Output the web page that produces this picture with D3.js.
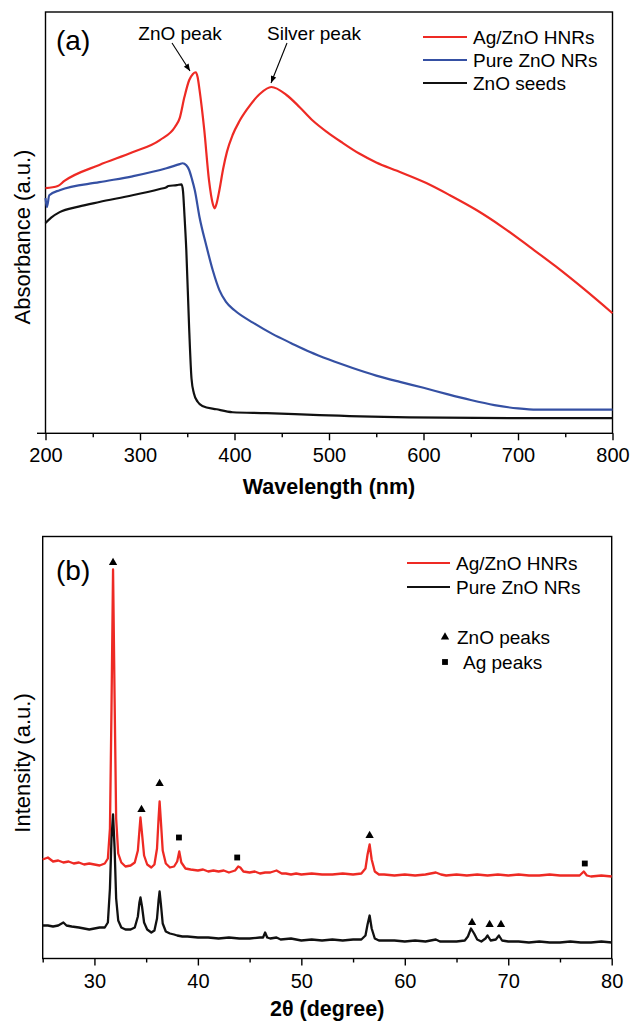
<!DOCTYPE html>
<html>
<head>
<meta charset="utf-8">
<script src="https://cdn.jsdelivr.net/npm/d3@7"></script>
<style>
  body { margin: 0; background: #fff; }
  text { font-family: 'Liberation Sans', Arial, sans-serif; }
</style>
</head>
<body>
<div id="app"></div>
<script>
// ---- panel (a) : UV-Vis absorbance, [wavelength nm, absorbance a.u.]
const agZnoUv = [[200,0.582],[213,0.587],[220,0.599],[257,0.637],[292,0.667],[321,0.696],[337,0.727],[342,0.748],
  [347,0.798],[352,0.838],[356,0.853],[359,0.857],[361,0.845],[363,0.815],[368,0.72],[373,0.601],[377,0.545],[379,0.534],
  [381,0.545],[384,0.577],[388,0.628],[392,0.668],[398,0.708],[405,0.74],[413,0.768],[427,0.806],[439,0.822],[455,0.803],
  [469,0.774],[483,0.742],[498,0.715],[514,0.69],[532,0.664],[550,0.643],[572,0.623],[603,0.594],[628,0.565],[656,0.53],
  [684,0.489],[712,0.443],[740,0.396],[770,0.342],[800,0.285]];
const pureZnoUv = [[200,0.558],[201.5,0.537],[204,0.565],[215,0.577],[257,0.596],[292,0.61],[328,0.629],[342,0.639],
  [345,0.641],[349,0.636],[352,0.625],[355,0.603],[358,0.577],[363,0.513],[370,0.447],[377,0.387],[384,0.34],[391,0.312],
  [400,0.292],[420,0.262],[440,0.236],[460,0.214],[480,0.193],[500,0.175],[525,0.155],[550,0.137],[575,0.122],
  [600,0.108],[625,0.093],[650,0.079],[675,0.067],[700,0.059],[720,0.056],[800,0.056]];
const seedsUv = [[200,0.499],[206,0.512],[215,0.525],[235,0.538],[257,0.549],[292,0.565],[321,0.58],[328,0.584],[330,0.587],[339,0.589],
  [344,0.591],[345.5,0.575],[347,0.52],[349,0.435],[352,0.25],[354.5,0.13],[357,0.095],[361,0.075],[366,0.065],
  [381,0.057],[398,0.05],[434,0.048],[490,0.043],[585,0.038],[691,0.036],[800,0.036]];
const uvSeries = ['Ag/ZnO HNRs', 'Pure ZnO NRs', 'ZnO seeds'];
const uvTicks = [200, 300, 400, 500, 600, 700, 800];

// ---- panel (b) : XRD, [2theta deg, intensity a.u.]
const agZnoXrd = [[25,99],[25.5,101],[26,97],[26.5,98],[27,96],[27.5,97],[28,95],[28.5,96],[29,94],[29.5,95],[30,94],
  [30.5,93],[31,95],[31.3,100],[31.5,130],[31.65,250],[31.8,389],[31.95,260],[32.1,140],[32.3,105],[32.6,96],[33,92],
  [33.5,93],[33.9,96],[34.2,108],[34.35,128],[34.45,141],[34.6,125],[34.8,103],[35.1,94],[35.5,91],[35.8,94],[36.05,110],
  [36.2,140],[36.3,157],[36.42,138],[36.6,108],[36.9,95],[37.3,91],[37.7,92],[38,97],[38.2,107],[38.4,96],[38.8,90],
  [39.3,89],[40,88],[40.5,89],[41,87],[41.5,88],[42,87],[42.5,88],[43,86],[43.6,88],[43.9,92],[44.1,91],[44.4,87],
  [45,86],[45.5,87],[46,85],[46.5,86],[47,86],[47.6,88],[48.1,85],[48.5,85],[49,84],[49.5,85],[50,84],[51,85],[52,84],
  [53,84],[54,85],[55,84],[55.8,85],[56.2,90],[56.4,104],[56.6,114],[56.8,99],[57.1,87],[57.5,84],[58,84],[59,83],
  [60,84],[61,83],[62,84],[63,86],[63.5,84],[64,83],[65,84],[66,83],[67,84],[68,83],[69,84],[70,83],[71,84],[72,83],
  [73,83],[74,84],[75,83],[76,83],[76.9,83],[77.3,87],[77.6,83],[78,82],[79,83],[80,82]];
const pureZnoXrd = [[25,33],[25.5,33],[26,32],[26.5,33],[27,36],[27.3,33],[27.8,32],[28.5,31],[29,30],[29.5,29],[30,30],
  [30.5,31],[31,31],[31.3,36],[31.5,70],[31.65,120],[31.8,144],[31.95,110],[32.1,60],[32.3,38],[32.6,31],[33,29],
  [33.5,29],[33.9,31],[34.2,42],[34.35,56],[34.45,61],[34.6,52],[34.8,36],[35.1,29],[35.5,26],[35.8,28],[36.05,40],
  [36.2,58],[36.3,67],[36.42,55],[36.6,35],[36.9,27],[37.3,25],[37.7,24],[38,23],[38.5,22],[39,22],[40,21],[41,21],
  [42,20],[43,21],[44,20],[45,20],[46,21],[46.3,21],[46.5,26],[46.7,21],[47,20],[47.6,21],[48,19],[49,20],[50,18],
  [51,19],[52,18],[53,19],[54,18],[55,19],[55.8,19],[56.2,23],[56.4,34],[56.6,43],[56.8,30],[57.1,20],[57.5,18],[58,18],
  [59,18],[60,17],[61,18],[62,17],[63,19],[63.4,17],[64,17],[65,17],[65.8,18],[66.1,22],[66.4,30],[66.7,25],[67,19],
  [67.4,17],[67.8,20],[68,23],[68.3,18],[68.8,19],[69.1,23],[69.4,18],[70,17],[71,17],[72,16],[73,17],[74,16],[75,16],
  [76,17],[77,16],[78,16],[79,17],[80,16]];
const xrdSeries = ['Ag/ZnO HNRs', 'Pure ZnO NRs'];
const xrdTicks = [30, 40, 50, 60, 70, 80];
// peak markers [2theta, intensity]
const znoPeakMarks = [[31.8,396],[34.55,149],[36.3,175],[56.6,123],[66.5,36],[68.2,34],[69.3,34]];
const agPeakMarks = [[38.17,121],[43.8,101],[77.4,95]];

const width = 631, height = 1023;
const RED = '#ee2a24', BLUE = '#3550a3', BLACK = '#111';

const svg = d3.select('#app').append('svg')
    .attr('width', width)
    .attr('height', height);

svg.append('defs').append('marker')
    .attr('id', 'arrow')
    .attr('viewBox', '0 0 10 10')
    .attr('refX', 10).attr('refY', 5)
    .attr('markerWidth', 9).attr('markerHeight', 7)
    .attr('markerUnits', 'userSpaceOnUse')
    .attr('orient', 'auto')
    .append('path')
    .attr('d', 'M0,1 L10,5 L0,9 Z')
    .attr('fill', '#000');

// shared frame drawing
function drawFrame(g, x, y, ticks, minorStep, title, ytitle, titleY, ytitleY) {
    const [x0, x1] = x.range(), [y0, y1] = y.range();
    const minor = d3.range(x.domain()[0], x.domain()[1] + 0.001, minorStep).filter(v => !ticks.includes(v));

    g.append('rect')
        .attr('x', x0).attr('y', y1)
        .attr('width', x1 - x0).attr('height', y0 - y1)
        .attr('fill', 'none').attr('stroke', '#000').attr('stroke-width', 1.4);

    const ax = g.append('g')
        .attr('transform', `translate(0,${y0})`)
        .call(d3.axisBottom(x).tickValues(ticks).tickSize(7).tickSizeOuter(0).tickPadding(8).tickFormat(d3.format('d')));
    ax.select('.domain').remove();
    ax.selectAll('line').attr('stroke', '#000').attr('stroke-width', 1.4);
    ax.selectAll('text').attr('fill', '#000').style('font-size', '20px')
        .style('font-family', "'Liberation Sans', Arial, sans-serif");

    const mx = g.append('g')
        .attr('transform', `translate(0,${y0})`)
        .call(d3.axisBottom(x).tickValues(minor).tickSize(4).tickSizeOuter(0).tickFormat(''));
    mx.select('.domain').remove();
    mx.selectAll('line').attr('stroke', '#000').attr('stroke-width', 1.4);

    g.append('text')
        .attr('x', (x0 + x1) / 2).attr('y', titleY)
        .attr('text-anchor', 'middle')
        .style('font-size', '21.5px').style('font-weight', 'bold')
        .html(title);

    g.append('text')
        .attr('transform', `translate(30,${ytitleY}) rotate(-90)`)
        .attr('text-anchor', 'middle')
        .style('font-size', '22px')
        .text(ytitle);
}

// ---------------- panel (a)
const xa = d3.scaleLinear().domain([200, 800]).range([45.5, 612.5]);
const ya = d3.scaleLinear().domain([0, 1]).range([433.3, 12]);
const ga = svg.append('g');
drawFrame(ga, xa, ya, uvTicks, 50, 'Wavelength (nm)', 'Absorbance (a.u.)', 494, 237);

// small left tick at the bottom corner
ga.append('line')
    .attr('x1', 37).attr('x2', xa(200))
    .attr('y1', ya(0)).attr('y2', ya(0))
    .attr('stroke', '#000').attr('stroke-width', 1.4);

const lineA = d3.line().x(d => xa(d[0])).y(d => ya(d[1])).curve(d3.curveMonotoneX);
[[agZnoUv, RED], [pureZnoUv, BLUE], [seedsUv, BLACK]].forEach(([data, c]) => {
    ga.append('path')
        .attr('d', lineA(data))
        .attr('fill', 'none')
        .attr('stroke', c)
        .attr('stroke-width', 2.2);
});

ga.append('text').attr('x', 56).attr('y', 50).style('font-size', '28px').text('(a)');

// peak annotations
ga.append('text').attr('x', 180).attr('y', 40).attr('text-anchor', 'middle').style('font-size', '19px').text('ZnO peak');
ga.append('line').attr('x1', 172).attr('y1', 43).attr('x2', 190).attr('y2', 71)
    .attr('stroke', '#000').attr('stroke-width', 1.1).attr('marker-end', 'url(#arrow)');
ga.append('text').attr('x', 314).attr('y', 40).attr('text-anchor', 'middle').style('font-size', '19px').text('Silver peak');
ga.append('line').attr('x1', 287).attr('y1', 43).attr('x2', 271).attr('y2', 83)
    .attr('stroke', '#000').attr('stroke-width', 1.1).attr('marker-end', 'url(#arrow)');

// legend (a)
const legA = ga.append('g');
uvSeries.forEach((name, i) => {
    const yy = 37 + i * 23;
    legA.append('line').attr('x1', 423).attr('x2', 467).attr('y1', yy).attr('y2', yy)
        .attr('stroke', [RED, BLUE, BLACK][i]).attr('stroke-width', 2.2);
    legA.append('text').attr('x', 473).attr('y', yy + 7).style('font-size', '19px').text(name);
});

// ---------------- panel (b)
const xb = d3.scaleLinear().domain([25, 80]).range([42.7, 611.7]);
const yb = d3.scaleLinear().domain([0, 422]).range([958.5, 536.5]);
const gb = svg.append('g');
drawFrame(gb, xb, yb, xrdTicks, 5, '2θ (degree)', 'Intensity (a.u.)', 1016, 763);

const lineB = d3.line().x(d => xb(d[0])).y(d => yb(d[1]));
[[agZnoXrd, RED], [pureZnoXrd, BLACK]].forEach(([data, c]) => {
    gb.append('path')
        .attr('d', lineB(data))
        .attr('fill', 'none')
        .attr('stroke', c)
        .attr('stroke-width', 2.3)
        .attr('stroke-linejoin', 'round');
});

const tri = d3.symbol().type(d3.symbolTriangle).size(30);
const sq = d3.symbol().type(d3.symbolSquare).size(34);
gb.selectAll('.zno').data(znoPeakMarks).enter().append('path')
    .attr('class', 'zno')
    .attr('transform', d => `translate(${xb(d[0])},${yb(d[1])})`)
    .attr('d', tri).attr('fill', '#000');
gb.selectAll('.ag').data(agPeakMarks).enter().append('path')
    .attr('class', 'ag')
    .attr('transform', d => `translate(${xb(d[0])},${yb(d[1])})`)
    .attr('d', sq).attr('fill', '#000');

gb.append('text').attr('x', 56).attr('y', 580).style('font-size', '28px').text('(b)');

// legend (b)
const legB = gb.append('g');
xrdSeries.forEach((name, i) => {
    const yy = 563 + i * 24;
    legB.append('line').attr('x1', 407).attr('x2', 450).attr('y1', yy).attr('y2', yy)
        .attr('stroke', [RED, BLACK][i]).attr('stroke-width', 2);
    legB.append('text').attr('x', 456).attr('y', yy + 7).style('font-size', '19px').text(name);
});
legB.append('path').attr('transform', 'translate(445,637)').attr('d', tri).attr('fill', '#000');
legB.append('text').attr('x', 457).attr('y', 644).style('font-size', '19px').text('ZnO peaks');
legB.append('path').attr('transform', 'translate(445,662)').attr('d', sq).attr('fill', '#000');
legB.append('text').attr('x', 463).attr('y', 669).style('font-size', '19px').text('Ag peaks');
</script>
</body>
</html>
